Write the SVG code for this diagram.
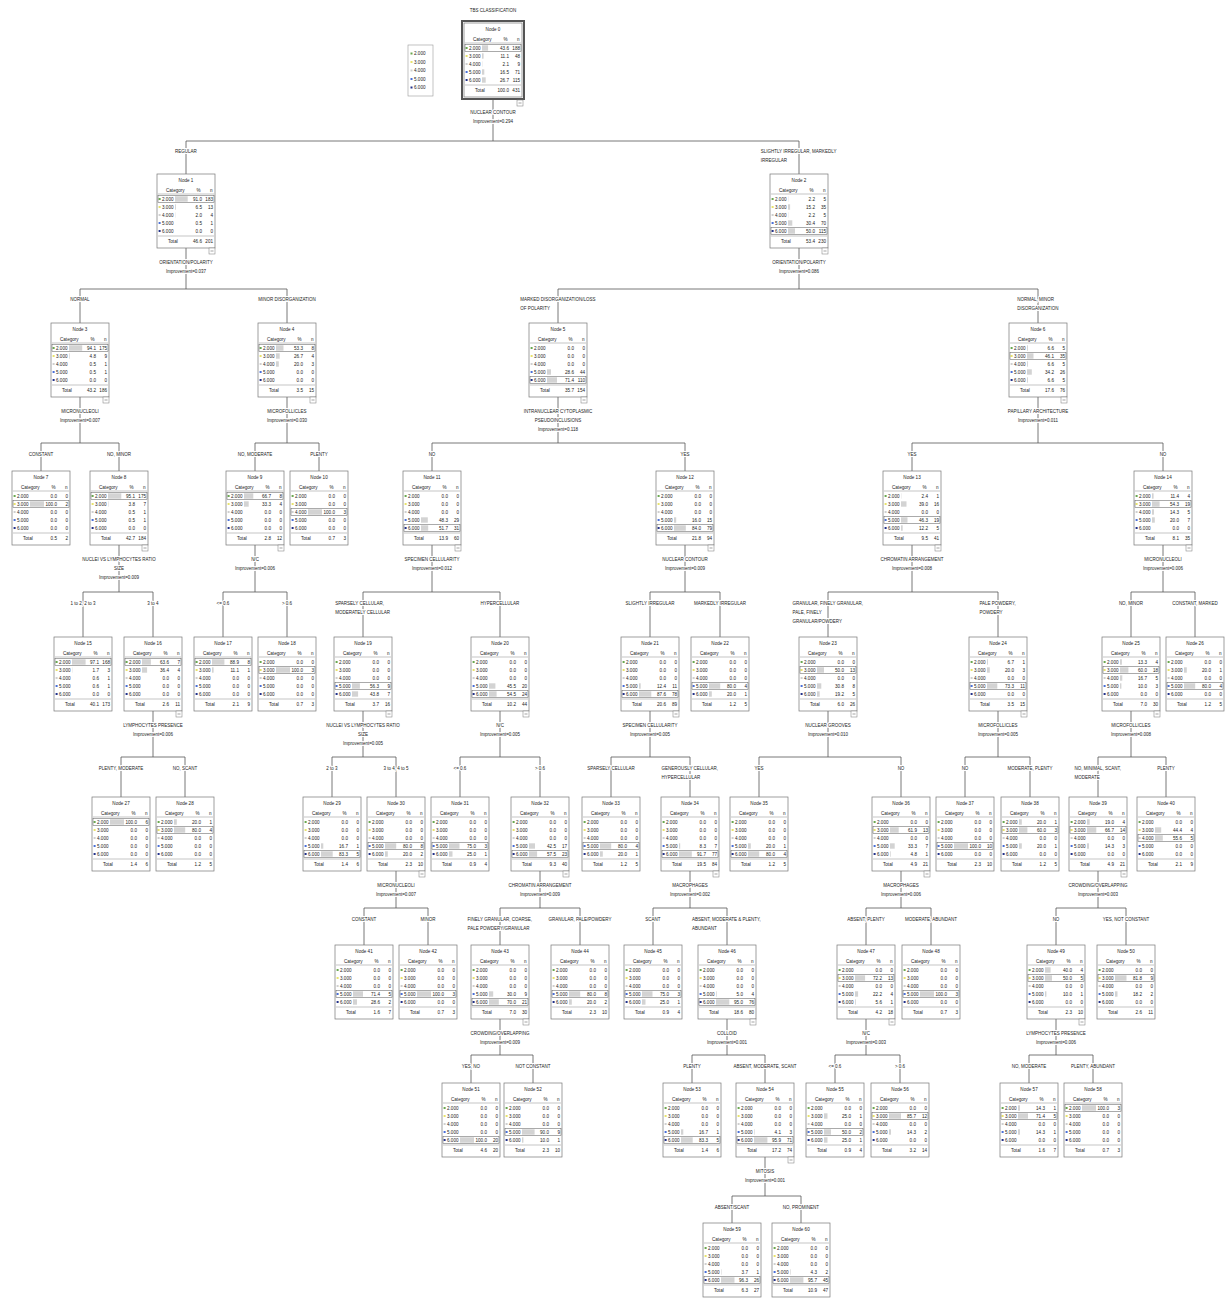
<svg xmlns="http://www.w3.org/2000/svg" xmlns:xlink="http://www.w3.org/1999/xlink" width="1225" height="1299" viewBox="0 0 1225 1299">
<style>
text{font-family:"Liberation Sans",Arial,sans-serif;fill:#222}
.t{font-size:4.6px}
.m{text-anchor:middle}
.e{text-anchor:end}
.l{font-size:4.5px;paint-order:stroke;stroke:#fff;stroke-width:2.2px;stroke-linejoin:round}
.b{fill:#d3d3d3}
.p{fill:none;stroke:#444;stroke-width:.45}
.f{fill:#fff;stroke:#777;stroke-width:.7}
.g{stroke:#888;stroke-width:.5;fill:none}
.c path{fill:none;stroke:#555;stroke-width:.8}
</style>
<defs>
<g id="nf">
<rect class="f" width="58" height="74"/>
<path class="g" d="M1 20H57M1 62H57"/>
<text class="t"><tspan x="9" y="17.5">Category</tspan><tspan x="39.5" y="17.5">%</tspan><tspan x="53" y="17.5">n</tspan></text>
<rect x="1.6" y="24" width="2" height="2" fill="#6aa84f"/>
<rect x="1.6" y="32" width="2" height="2" fill="#e8e36b"/>
<rect x="1.6" y="40" width="2" height="2" fill="#cfcfcf"/>
<rect x="1.6" y="48" width="2" height="2" fill="#4a6fd8"/>
<rect x="1.6" y="56" width="2" height="2" fill="#22318a"/>
<text class="t"><tspan x="5" y="26.6">2.000</tspan><tspan x="5" y="34.6">3.000</tspan><tspan x="5" y="42.6">4.000</tspan><tspan x="5" y="50.6">5.000</tspan><tspan x="5" y="58.6">6.000</tspan><tspan x="11" y="68.6">Total</tspan></text>
</g>
<g id="ex"><rect class="f" x="52" y="74" width="6" height="6" style="stroke-width:.5"/><path d="M53.5 77H56.5" stroke="#444" stroke-width=".5"/></g>
<rect id="p1" class="p" x="1" y="21.3" width="56" height="7.4"/>
<rect id="p2" class="p" x="1" y="29.3" width="56" height="7.4"/>
<rect id="p3" class="p" x="1" y="37.3" width="56" height="7.4"/>
<rect id="p4" class="p" x="1" y="45.3" width="56" height="7.4"/>
<rect id="p5" class="p" x="1" y="53.3" width="56" height="7.4"/>
</defs>
<rect width="1225" height="1299" fill="#fff"/>

<g id="legend">
<rect x="408" y="45" width="25" height="51" fill="#fff" stroke="#999" stroke-width=".6"/>
<rect x="410.5" y="52.5" width="2" height="2" fill="#6aa84f"/>
<rect x="410.5" y="61" width="2" height="2" fill="#e8e36b"/>
<rect x="410.5" y="69.5" width="2" height="2" fill="#cfcfcf"/>
<rect x="410.5" y="78" width="2" height="2" fill="#4a6fd8"/>
<rect x="410.5" y="86.5" width="2" height="2" fill="#22318a"/>
<text class="t"><tspan x="414" y="55.1">2.000</tspan><tspan x="414" y="63.6">3.000</tspan><tspan x="414" y="72.1">4.000</tspan><tspan x="414" y="80.6">5.000</tspan><tspan x="414" y="89.1">6.000</tspan></text>
</g>

<g id="connectors" class="c">
<path d="M493 99V141M186 174V141H799V174"/>
<path d="M186 248V289M80 323V289H287V323"/>
<path d="M799 248V289M558 323V289H1038V323"/>
<path d="M80 397V443M41 471V443H119V471"/>
<path d="M287 397V443M255 471V443H319V471"/>
<path d="M558 397V443M432 471V443H685V471"/>
<path d="M1038 397V443M912 471V443H1163V471"/>
<path d="M119 545V592M83 637V592H153V637"/>
<path d="M255 545V592M223 637V592H287V637"/>
<path d="M432 545V592M363 637V592H500V637"/>
<path d="M685 545V592M650 637V592H720V637"/>
<path d="M912 545V592M828 637V592H998V637"/>
<path d="M1163 545V592M1131 637V592H1195V637"/>
<path d="M153 711V757M121 797V757H185V797"/>
<path d="M363 711V757M332 797V757H396V797"/>
<path d="M500 711V757M460 797V757H540V797"/>
<path d="M650 711V757M611 797V757H690V797"/>
<path d="M828 711V757M759 797V757H901V797"/>
<path d="M998 711V757M965 797V757H1030V797"/>
<path d="M1131 711V757M1098 797V757H1166V797"/>
<path d="M396 871V908M364 945V908H428V945"/>
<path d="M540 871V908M500 945V908H580V945"/>
<path d="M690 871V908M653 945V908H727V945"/>
<path d="M901 871V908M866 945V908H931V945"/>
<path d="M1098 871V908M1056 945V908H1126V945"/>
<path d="M500 1019V1055M471 1083V1055H533V1083"/>
<path d="M727 1019V1055M692 1083V1055H765V1083"/>
<path d="M866 1019V1055M835 1083V1055H900V1083"/>
<path d="M1056 1019V1055M1029 1083V1055H1093V1083"/>
<path d="M765 1157V1196M732 1223V1196H801V1223"/>
</g>

<g id="labels">
<text class="l m" x="493" y="12">TBS CLASSIFICATION</text>
<text class="l m" x="493"><tspan x="493" y="113.5">NUCLEAR CONTOUR</tspan><tspan x="493" y="122.5">Improvement=0.294</tspan></text>
<text class="l m" x="186" y="152.5">REGULAR</text>
<text class="l"><tspan x="760.7" y="152.5">SLIGHTLY IRREGULAR, MARKEDLY</tspan><tspan x="760.7" y="161.5">IRREGULAR</tspan></text>
<text class="l m"><tspan x="186" y="263.5">ORIENTATION/POLARITY</tspan><tspan x="186" y="272.5">Improvement=0.037</tspan></text>
<text class="l m"><tspan x="799" y="263.5">ORIENTATION/POLARITY</tspan><tspan x="799" y="272.5">Improvement=0.086</tspan></text>
<text class="l m" x="80" y="300.5">NORMAL</text>
<text class="l m" x="287" y="300.5">MINOR DISORGANIZATION</text>
<text class="l"><tspan x="520.3" y="300.5">MARKED DISORGANIZATION/LOSS</tspan><tspan x="520.3" y="309.5">OF POLARITY</tspan></text>
<text class="l"><tspan x="1017.2" y="300.5">NORMAL, MINOR</tspan><tspan x="1017.2" y="309.5">DISORGANIZATION</tspan></text>
<text class="l m"><tspan x="80" y="412.5">MICRONUCLEOLI</tspan><tspan x="80" y="421.5">Improvement=0.007</tspan></text>
<text class="l m"><tspan x="287" y="412.5">MICROFOLLICLES</tspan><tspan x="287" y="421.5">Improvement=0.030</tspan></text>
<text class="l m"><tspan x="558" y="412.5">INTRANUCLEAR CYTOPLASMIC</tspan><tspan x="558" y="421.5">PSEUDOINCLUSIONS</tspan><tspan x="558" y="430.5">Improvement=0.118</tspan></text>
<text class="l m"><tspan x="1038" y="412.5">PAPILLARY ARCHITECTURE</tspan><tspan x="1038" y="421.5">Improvement=0.011</tspan></text>
<text class="l m" x="41" y="455.5">CONSTANT</text>
<text class="l m" x="119" y="455.5">NO, MINOR</text>
<text class="l m" x="255" y="455.5">NO, MODERATE</text>
<text class="l m" x="319" y="455.5">PLENTY</text>
<text class="l m" x="432" y="455.5">NO</text>
<text class="l m" x="685" y="455.5">YES</text>
<text class="l m" x="912" y="455.5">YES</text>
<text class="l m" x="1163" y="455.5">NO</text>
<text class="l m"><tspan x="119" y="560.5">NUCLEI VS LYMPHOCYTES RATIO</tspan><tspan x="119" y="569.5">SIZE</tspan><tspan x="119" y="578.5">Improvement=0.009</tspan></text>
<text class="l m"><tspan x="255" y="560.5">N/C</tspan><tspan x="255" y="569.5">Improvement=0.006</tspan></text>
<text class="l m"><tspan x="432" y="560.5">SPECIMEN CELLULARITY</tspan><tspan x="432" y="569.5">Improvement=0.012</tspan></text>
<text class="l m"><tspan x="685" y="560.5">NUCLEAR CONTOUR</tspan><tspan x="685" y="569.5">Improvement=0.009</tspan></text>
<text class="l m"><tspan x="912" y="560.5">CHROMATIN ARRANGEMENT</tspan><tspan x="912" y="569.5">Improvement=0.008</tspan></text>
<text class="l m"><tspan x="1163" y="560.5">MICRONUCLEOLI</tspan><tspan x="1163" y="569.5">Improvement=0.006</tspan></text>
<text class="l m" x="83" y="604.5">1 to 2, 2 to 3</text>
<text class="l m" x="153" y="604.5">3 to 4</text>
<text class="l m" x="223" y="604.5">&lt;= 0.6</text>
<text class="l m" x="287" y="604.5">&gt; 0.6</text>
<text class="l"><tspan x="335.2" y="604.5">SPARSELY CELLULAR,</tspan><tspan x="335.2" y="613.5">MODERATELY CELLULAR</tspan></text>
<text class="l m" x="500" y="604.5">HYPERCELLULAR</text>
<text class="l m" x="650" y="604.5">SLIGHTLY IRREGULAR</text>
<text class="l m" x="720" y="604.5">MARKEDLY IRREGULAR</text>
<text class="l"><tspan x="792.6" y="604.5">GRANULAR, FINELY GRANULAR,</tspan><tspan x="792.6" y="613.5">PALE, FINELY</tspan><tspan x="792.6" y="622.5">GRANULAR/POWDERY</tspan></text>
<text class="l"><tspan x="979.4" y="604.5">PALE POWDERY,</tspan><tspan x="979.4" y="613.5">POWDERY</tspan></text>
<text class="l m" x="1131" y="604.5">NO, MINOR</text>
<text class="l m" x="1195" y="604.5">CONSTANT, MARKED</text>
<text class="l m"><tspan x="153" y="726.5">LYMPHOCYTES PRESENCE</tspan><tspan x="153" y="735.5">Improvement=0.006</tspan></text>
<text class="l m"><tspan x="363" y="726.5">NUCLEI VS LYMPHOCYTES RATIO</tspan><tspan x="363" y="735.5">SIZE</tspan><tspan x="363" y="744.5">Improvement=0.005</tspan></text>
<text class="l m"><tspan x="500" y="726.5">N/C</tspan><tspan x="500" y="735.5">Improvement=0.005</tspan></text>
<text class="l m"><tspan x="650" y="726.5">SPECIMEN CELLULARITY</tspan><tspan x="650" y="735.5">Improvement=0.005</tspan></text>
<text class="l m"><tspan x="828" y="726.5">NUCLEAR GROOVES</tspan><tspan x="828" y="735.5">Improvement=0.010</tspan></text>
<text class="l m"><tspan x="998" y="726.5">MICROFOLLICLES</tspan><tspan x="998" y="735.5">Improvement=0.005</tspan></text>
<text class="l m"><tspan x="1131" y="726.5">MICROFOLLICLES</tspan><tspan x="1131" y="735.5">Improvement=0.008</tspan></text>
<text class="l m" x="121" y="769.5">PLENTY, MODERATE</text>
<text class="l m" x="185" y="769.5">NO, SCANT</text>
<text class="l m" x="332" y="769.5">2 to 3</text>
<text class="l m" x="396" y="769.5">3 to 4, 4 to 5</text>
<text class="l m" x="460" y="769.5">&lt;= 0.6</text>
<text class="l m" x="540" y="769.5">&gt; 0.6</text>
<text class="l m" x="611" y="769.5">SPARSELY CELLULAR</text>
<text class="l"><tspan x="661.5" y="769.5">GENEROUSLY CELLULAR,</tspan><tspan x="661.5" y="778.5">HYPERCELLULAR</tspan></text>
<text class="l m" x="759" y="769.5">YES</text>
<text class="l m" x="901" y="769.5">NO</text>
<text class="l m" x="965" y="769.5">NO</text>
<text class="l m" x="1030" y="769.5">MODERATE, PLENTY</text>
<text class="l"><tspan x="1074.5" y="769.5">NO, MINIMAL, SCANT,</tspan><tspan x="1074.5" y="778.5">MODERATE</tspan></text>
<text class="l m" x="1166" y="769.5">PLENTY</text>
<text class="l m"><tspan x="396" y="886.5">MICRONUCLEOLI</tspan><tspan x="396" y="895.5">Improvement=0.007</tspan></text>
<text class="l m"><tspan x="540" y="886.5">CHROMATIN ARRANGEMENT</tspan><tspan x="540" y="895.5">Improvement=0.009</tspan></text>
<text class="l m"><tspan x="690" y="886.5">MACROPHAGES</tspan><tspan x="690" y="895.5">Improvement=0.002</tspan></text>
<text class="l m"><tspan x="901" y="886.5">MACROPHAGES</tspan><tspan x="901" y="895.5">Improvement=0.006</tspan></text>
<text class="l m"><tspan x="1098" y="886.5">CROWDING/OVERLAPPING</tspan><tspan x="1098" y="895.5">Improvement=0.003</tspan></text>
<text class="l m" x="364" y="920.5">CONSTANT</text>
<text class="l m" x="428" y="920.5">MINOR</text>
<text class="l"><tspan x="467.6" y="920.5">FINELY GRANULAR, COARSE,</tspan><tspan x="467.6" y="929.5">PALE POWDERY/GRANULAR</tspan></text>
<text class="l m" x="580" y="920.5">GRANULAR, PALE/POWDERY</text>
<text class="l m" x="653" y="920.5">SCANT</text>
<text class="l"><tspan x="691.9" y="920.5">ABSENT, MODERATE &amp; PLENTY,</tspan><tspan x="691.9" y="929.5">ABUNDANT</tspan></text>
<text class="l m" x="866" y="920.5">ABSENT, PLENTY</text>
<text class="l m" x="931" y="920.5">MODERATE, ABUNDANT</text>
<text class="l m" x="1056" y="920.5">NO</text>
<text class="l m" x="1126" y="920.5">YES, NOT CONSTANT</text>
<text class="l m"><tspan x="500" y="1034.5">CROWDING/OVERLAPPING</tspan><tspan x="500" y="1043.5">Improvement=0.009</tspan></text>
<text class="l m"><tspan x="727" y="1034.5">COLLOID</tspan><tspan x="727" y="1043.5">Improvement=0.001</tspan></text>
<text class="l m"><tspan x="866" y="1034.5">N/C</tspan><tspan x="866" y="1043.5">Improvement=0.003</tspan></text>
<text class="l m"><tspan x="1056" y="1034.5">LYMPHOCYTES PRESENCE</tspan><tspan x="1056" y="1043.5">Improvement=0.006</tspan></text>
<text class="l m" x="471" y="1067.5">YES, NO</text>
<text class="l m" x="533" y="1067.5">NOT CONSTANT</text>
<text class="l m" x="692" y="1067.5">PLENTY</text>
<text class="l m" x="765" y="1067.5">ABSENT, MODERATE, SCANT</text>
<text class="l m" x="835" y="1067.5">&lt;= 0.6</text>
<text class="l m" x="900" y="1067.5">&gt; 0.6</text>
<text class="l m" x="1029" y="1067.5">NO, MODERATE</text>
<text class="l m" x="1093" y="1067.5">PLENTY, ABUNDANT</text>
<text class="l m"><tspan x="765" y="1172.5">MITOSIS</tspan><tspan x="765" y="1181.5">Improvement=0.001</tspan></text>
<text class="l m" x="732" y="1208.5">ABSENT/SCANT</text>
<text class="l m" x="801" y="1208.5">NO, PROMINENT</text>
</g>

<g id="n0"><rect x="462" y="21" width="62" height="78" fill="#fff" stroke="#555" stroke-width="2"/><g transform="translate(464,23)"><use href="#nf"/><rect class="b" x="18" y="22.3" width="6.1" height="5.4"/><rect class="b" x="18" y="30.3" width="1.6" height="5.4"/><rect class="b" x="18" y="38.3" width="0.3" height="5.4"/><rect class="b" x="18" y="46.3" width="2.3" height="5.4"/><rect class="b" x="18" y="54.3" width="3.7" height="5.4"/><use href="#p1"/><text class="t m" x="29" y="7.5">Node 0</text><text class="t e"><tspan x="45" y="26.6">43.6</tspan><tspan x="45" y="34.6">11.1</tspan><tspan x="45" y="42.6">2.1</tspan><tspan x="45" y="50.6">16.5</tspan><tspan x="45" y="58.6">26.7</tspan><tspan x="45" y="68.6">100.0</tspan><tspan x="56" y="26.6">188</tspan><tspan x="56" y="34.6">48</tspan><tspan x="56" y="42.6">9</tspan><tspan x="56" y="50.6">71</tspan><tspan x="56" y="58.6">115</tspan><tspan x="56" y="68.6">431</tspan></text><use href="#ex" x="1" y="3"/></g></g>

<g id="n1" transform="translate(157,174)"><use href="#nf"/><rect class="b" x="18" y="22.3" width="12.7" height="5.4"/><rect class="b" x="18" y="30.3" width="0.9" height="5.4"/><rect class="b" x="18" y="38.3" width="0.3" height="5.4"/><use href="#p1"/><text class="t m" x="29" y="7.5">Node 1</text><text class="t e"><tspan x="45" y="26.6">91.0</tspan><tspan x="45" y="34.6">6.5</tspan><tspan x="45" y="42.6">2.0</tspan><tspan x="45" y="50.6">0.5</tspan><tspan x="45" y="58.6">0.0</tspan><tspan x="45" y="68.6">46.6</tspan><tspan x="56" y="26.6">183</tspan><tspan x="56" y="34.6">13</tspan><tspan x="56" y="42.6">4</tspan><tspan x="56" y="50.6">1</tspan><tspan x="56" y="58.6">0</tspan><tspan x="56" y="68.6">201</tspan></text><use href="#ex"/></g>

<g id="n2" transform="translate(770,174)"><use href="#nf"/><rect class="b" x="18" y="22.3" width="0.3" height="5.4"/><rect class="b" x="18" y="30.3" width="2.1" height="5.4"/><rect class="b" x="18" y="38.3" width="0.3" height="5.4"/><rect class="b" x="18" y="46.3" width="4.3" height="5.4"/><rect class="b" x="18" y="54.3" width="7" height="5.4"/><use href="#p5"/><text class="t m" x="29" y="7.5">Node 2</text><text class="t e"><tspan x="45" y="26.6">2.2</tspan><tspan x="45" y="34.6">15.2</tspan><tspan x="45" y="42.6">2.2</tspan><tspan x="45" y="50.6">30.4</tspan><tspan x="45" y="58.6">50.0</tspan><tspan x="45" y="68.6">53.4</tspan><tspan x="56" y="26.6">5</tspan><tspan x="56" y="34.6">35</tspan><tspan x="56" y="42.6">5</tspan><tspan x="56" y="50.6">70</tspan><tspan x="56" y="58.6">115</tspan><tspan x="56" y="68.6">230</tspan></text><use href="#ex"/></g>

<g id="n3" transform="translate(51,323)"><use href="#nf"/><rect class="b" x="18" y="22.3" width="13.2" height="5.4"/><rect class="b" x="18" y="30.3" width="0.7" height="5.4"/><use href="#p1"/><text class="t m" x="29" y="7.5">Node 3</text><text class="t e"><tspan x="45" y="26.6">94.1</tspan><tspan x="45" y="34.6">4.8</tspan><tspan x="45" y="42.6">0.5</tspan><tspan x="45" y="50.6">0.5</tspan><tspan x="45" y="58.6">0.0</tspan><tspan x="45" y="68.6">43.2</tspan><tspan x="56" y="26.6">175</tspan><tspan x="56" y="34.6">9</tspan><tspan x="56" y="42.6">1</tspan><tspan x="56" y="50.6">1</tspan><tspan x="56" y="58.6">0</tspan><tspan x="56" y="68.6">186</tspan></text><use href="#ex"/></g>

<g id="n4" transform="translate(258,323)"><use href="#nf"/><rect class="b" x="18" y="22.3" width="7.5" height="5.4"/><rect class="b" x="18" y="30.3" width="3.7" height="5.4"/><rect class="b" x="18" y="38.3" width="2.8" height="5.4"/><use href="#p1"/><text class="t m" x="29" y="7.5">Node 4</text><text class="t e"><tspan x="45" y="26.6">53.3</tspan><tspan x="45" y="34.6">26.7</tspan><tspan x="45" y="42.6">20.0</tspan><tspan x="45" y="50.6">0.0</tspan><tspan x="45" y="58.6">0.0</tspan><tspan x="45" y="68.6">3.5</tspan><tspan x="56" y="26.6">8</tspan><tspan x="56" y="34.6">4</tspan><tspan x="56" y="42.6">3</tspan><tspan x="56" y="50.6">0</tspan><tspan x="56" y="58.6">0</tspan><tspan x="56" y="68.6">15</tspan></text><use href="#ex"/></g>

<g id="n5" transform="translate(529,323)"><use href="#nf"/><rect class="b" x="18" y="46.3" width="4" height="5.4"/><rect class="b" x="18" y="54.3" width="10" height="5.4"/><use href="#p5"/><text class="t m" x="29" y="7.5">Node 5</text><text class="t e"><tspan x="45" y="26.6">0.0</tspan><tspan x="45" y="34.6">0.0</tspan><tspan x="45" y="42.6">0.0</tspan><tspan x="45" y="50.6">28.6</tspan><tspan x="45" y="58.6">71.4</tspan><tspan x="45" y="68.6">35.7</tspan><tspan x="56" y="26.6">0</tspan><tspan x="56" y="34.6">0</tspan><tspan x="56" y="42.6">0</tspan><tspan x="56" y="50.6">44</tspan><tspan x="56" y="58.6">110</tspan><tspan x="56" y="68.6">154</tspan></text><use href="#ex"/></g>

<g id="n6" transform="translate(1009,323)"><use href="#nf"/><rect class="b" x="18" y="22.3" width="0.9" height="5.4"/><rect class="b" x="18" y="30.3" width="6.5" height="5.4"/><rect class="b" x="18" y="38.3" width="0.9" height="5.4"/><rect class="b" x="18" y="46.3" width="4.8" height="5.4"/><rect class="b" x="18" y="54.3" width="0.9" height="5.4"/><use href="#p2"/><text class="t m" x="29" y="7.5">Node 6</text><text class="t e"><tspan x="45" y="26.6">6.6</tspan><tspan x="45" y="34.6">46.1</tspan><tspan x="45" y="42.6">6.6</tspan><tspan x="45" y="50.6">34.2</tspan><tspan x="45" y="58.6">6.6</tspan><tspan x="45" y="68.6">17.6</tspan><tspan x="56" y="26.6">5</tspan><tspan x="56" y="34.6">35</tspan><tspan x="56" y="42.6">5</tspan><tspan x="56" y="50.6">26</tspan><tspan x="56" y="58.6">5</tspan><tspan x="56" y="68.6">76</tspan></text><use href="#ex"/></g>

<g id="n7" transform="translate(12,471)"><use href="#nf"/><rect class="b" x="18" y="30.3" width="14" height="5.4"/><use href="#p2"/><text class="t m" x="29" y="7.5">Node 7</text><text class="t e"><tspan x="45" y="26.6">0.0</tspan><tspan x="45" y="34.6">100.0</tspan><tspan x="45" y="42.6">0.0</tspan><tspan x="45" y="50.6">0.0</tspan><tspan x="45" y="58.6">0.0</tspan><tspan x="45" y="68.6">0.5</tspan><tspan x="56" y="26.6">0</tspan><tspan x="56" y="34.6">2</tspan><tspan x="56" y="42.6">0</tspan><tspan x="56" y="50.6">0</tspan><tspan x="56" y="58.6">0</tspan><tspan x="56" y="68.6">2</tspan></text></g>

<g id="n8" transform="translate(90,471)"><use href="#nf"/><rect class="b" x="18" y="22.3" width="13.3" height="5.4"/><rect class="b" x="18" y="30.3" width="0.5" height="5.4"/><use href="#p1"/><text class="t m" x="29" y="7.5">Node 8</text><text class="t e"><tspan x="45" y="26.6">95.1</tspan><tspan x="45" y="34.6">3.8</tspan><tspan x="45" y="42.6">0.5</tspan><tspan x="45" y="50.6">0.5</tspan><tspan x="45" y="58.6">0.0</tspan><tspan x="45" y="68.6">42.7</tspan><tspan x="56" y="26.6">175</tspan><tspan x="56" y="34.6">7</tspan><tspan x="56" y="42.6">1</tspan><tspan x="56" y="50.6">1</tspan><tspan x="56" y="58.6">0</tspan><tspan x="56" y="68.6">184</tspan></text><use href="#ex"/></g>

<g id="n9" transform="translate(226,471)"><use href="#nf"/><rect class="b" x="18" y="22.3" width="9.3" height="5.4"/><rect class="b" x="18" y="30.3" width="4.7" height="5.4"/><use href="#p1"/><text class="t m" x="29" y="7.5">Node 9</text><text class="t e"><tspan x="45" y="26.6">66.7</tspan><tspan x="45" y="34.6">33.3</tspan><tspan x="45" y="42.6">0.0</tspan><tspan x="45" y="50.6">0.0</tspan><tspan x="45" y="58.6">0.0</tspan><tspan x="45" y="68.6">2.8</tspan><tspan x="56" y="26.6">8</tspan><tspan x="56" y="34.6">4</tspan><tspan x="56" y="42.6">0</tspan><tspan x="56" y="50.6">0</tspan><tspan x="56" y="58.6">0</tspan><tspan x="56" y="68.6">12</tspan></text><use href="#ex"/></g>

<g id="n10" transform="translate(290,471)"><use href="#nf"/><rect class="b" x="18" y="38.3" width="14" height="5.4"/><use href="#p3"/><text class="t m" x="29" y="7.5">Node 10</text><text class="t e"><tspan x="45" y="26.6">0.0</tspan><tspan x="45" y="34.6">0.0</tspan><tspan x="45" y="42.6">100.0</tspan><tspan x="45" y="50.6">0.0</tspan><tspan x="45" y="58.6">0.0</tspan><tspan x="45" y="68.6">0.7</tspan><tspan x="56" y="26.6">0</tspan><tspan x="56" y="34.6">0</tspan><tspan x="56" y="42.6">3</tspan><tspan x="56" y="50.6">0</tspan><tspan x="56" y="58.6">0</tspan><tspan x="56" y="68.6">3</tspan></text></g>

<g id="n11" transform="translate(403,471)"><use href="#nf"/><rect class="b" x="18" y="46.3" width="6.8" height="5.4"/><rect class="b" x="18" y="54.3" width="7.2" height="5.4"/><use href="#p5"/><text class="t m" x="29" y="7.5">Node 11</text><text class="t e"><tspan x="45" y="26.6">0.0</tspan><tspan x="45" y="34.6">0.0</tspan><tspan x="45" y="42.6">0.0</tspan><tspan x="45" y="50.6">48.3</tspan><tspan x="45" y="58.6">51.7</tspan><tspan x="45" y="68.6">13.9</tspan><tspan x="56" y="26.6">0</tspan><tspan x="56" y="34.6">0</tspan><tspan x="56" y="42.6">0</tspan><tspan x="56" y="50.6">29</tspan><tspan x="56" y="58.6">31</tspan><tspan x="56" y="68.6">60</tspan></text><use href="#ex"/></g>

<g id="n12" transform="translate(656,471)"><use href="#nf"/><rect class="b" x="18" y="46.3" width="2.2" height="5.4"/><rect class="b" x="18" y="54.3" width="11.8" height="5.4"/><use href="#p5"/><text class="t m" x="29" y="7.5">Node 12</text><text class="t e"><tspan x="45" y="26.6">0.0</tspan><tspan x="45" y="34.6">0.0</tspan><tspan x="45" y="42.6">0.0</tspan><tspan x="45" y="50.6">16.0</tspan><tspan x="45" y="58.6">84.0</tspan><tspan x="45" y="68.6">21.8</tspan><tspan x="56" y="26.6">0</tspan><tspan x="56" y="34.6">0</tspan><tspan x="56" y="42.6">0</tspan><tspan x="56" y="50.6">15</tspan><tspan x="56" y="58.6">79</tspan><tspan x="56" y="68.6">94</tspan></text><use href="#ex"/></g>

<g id="n13" transform="translate(883,471)"><use href="#nf"/><rect class="b" x="18" y="22.3" width="0.3" height="5.4"/><rect class="b" x="18" y="30.3" width="5.5" height="5.4"/><rect class="b" x="18" y="46.3" width="6.5" height="5.4"/><rect class="b" x="18" y="54.3" width="1.7" height="5.4"/><use href="#p4"/><text class="t m" x="29" y="7.5">Node 13</text><text class="t e"><tspan x="45" y="26.6">2.4</tspan><tspan x="45" y="34.6">39.0</tspan><tspan x="45" y="42.6">0.0</tspan><tspan x="45" y="50.6">46.3</tspan><tspan x="45" y="58.6">12.2</tspan><tspan x="45" y="68.6">9.5</tspan><tspan x="56" y="26.6">1</tspan><tspan x="56" y="34.6">16</tspan><tspan x="56" y="42.6">0</tspan><tspan x="56" y="50.6">19</tspan><tspan x="56" y="58.6">5</tspan><tspan x="56" y="68.6">41</tspan></text><use href="#ex"/></g>

<g id="n14" transform="translate(1134,471)"><use href="#nf"/><rect class="b" x="18" y="22.3" width="1.6" height="5.4"/><rect class="b" x="18" y="30.3" width="7.6" height="5.4"/><rect class="b" x="18" y="38.3" width="2" height="5.4"/><rect class="b" x="18" y="46.3" width="2.8" height="5.4"/><use href="#p2"/><text class="t m" x="29" y="7.5">Node 14</text><text class="t e"><tspan x="45" y="26.6">11.4</tspan><tspan x="45" y="34.6">54.3</tspan><tspan x="45" y="42.6">14.3</tspan><tspan x="45" y="50.6">20.0</tspan><tspan x="45" y="58.6">0.0</tspan><tspan x="45" y="68.6">8.1</tspan><tspan x="56" y="26.6">4</tspan><tspan x="56" y="34.6">19</tspan><tspan x="56" y="42.6">5</tspan><tspan x="56" y="50.6">7</tspan><tspan x="56" y="58.6">0</tspan><tspan x="56" y="68.6">35</tspan></text><use href="#ex"/></g>

<g id="n15" transform="translate(54,637)"><use href="#nf"/><rect class="b" x="18" y="22.3" width="13.6" height="5.4"/><rect class="b" x="18" y="30.3" width="0.3" height="5.4"/><use href="#p1"/><text class="t m" x="29" y="7.5">Node 15</text><text class="t e"><tspan x="45" y="26.6">97.1</tspan><tspan x="45" y="34.6">1.7</tspan><tspan x="45" y="42.6">0.6</tspan><tspan x="45" y="50.6">0.6</tspan><tspan x="45" y="58.6">0.0</tspan><tspan x="45" y="68.6">40.1</tspan><tspan x="56" y="26.6">168</tspan><tspan x="56" y="34.6">3</tspan><tspan x="56" y="42.6">1</tspan><tspan x="56" y="50.6">1</tspan><tspan x="56" y="58.6">0</tspan><tspan x="56" y="68.6">173</tspan></text></g>

<g id="n16" transform="translate(124,637)"><use href="#nf"/><rect class="b" x="18" y="22.3" width="8.9" height="5.4"/><rect class="b" x="18" y="30.3" width="5.1" height="5.4"/><use href="#p1"/><text class="t m" x="29" y="7.5">Node 16</text><text class="t e"><tspan x="45" y="26.6">63.6</tspan><tspan x="45" y="34.6">36.4</tspan><tspan x="45" y="42.6">0.0</tspan><tspan x="45" y="50.6">0.0</tspan><tspan x="45" y="58.6">0.0</tspan><tspan x="45" y="68.6">2.6</tspan><tspan x="56" y="26.6">7</tspan><tspan x="56" y="34.6">4</tspan><tspan x="56" y="42.6">0</tspan><tspan x="56" y="50.6">0</tspan><tspan x="56" y="58.6">0</tspan><tspan x="56" y="68.6">11</tspan></text><use href="#ex"/></g>

<g id="n17" transform="translate(194,637)"><use href="#nf"/><rect class="b" x="18" y="22.3" width="12.4" height="5.4"/><rect class="b" x="18" y="30.3" width="1.6" height="5.4"/><use href="#p1"/><text class="t m" x="29" y="7.5">Node 17</text><text class="t e"><tspan x="45" y="26.6">88.9</tspan><tspan x="45" y="34.6">11.1</tspan><tspan x="45" y="42.6">0.0</tspan><tspan x="45" y="50.6">0.0</tspan><tspan x="45" y="58.6">0.0</tspan><tspan x="45" y="68.6">2.1</tspan><tspan x="56" y="26.6">8</tspan><tspan x="56" y="34.6">1</tspan><tspan x="56" y="42.6">0</tspan><tspan x="56" y="50.6">0</tspan><tspan x="56" y="58.6">0</tspan><tspan x="56" y="68.6">9</tspan></text></g>

<g id="n18" transform="translate(258,637)"><use href="#nf"/><rect class="b" x="18" y="30.3" width="14" height="5.4"/><use href="#p2"/><text class="t m" x="29" y="7.5">Node 18</text><text class="t e"><tspan x="45" y="26.6">0.0</tspan><tspan x="45" y="34.6">100.0</tspan><tspan x="45" y="42.6">0.0</tspan><tspan x="45" y="50.6">0.0</tspan><tspan x="45" y="58.6">0.0</tspan><tspan x="45" y="68.6">0.7</tspan><tspan x="56" y="26.6">0</tspan><tspan x="56" y="34.6">3</tspan><tspan x="56" y="42.6">0</tspan><tspan x="56" y="50.6">0</tspan><tspan x="56" y="58.6">0</tspan><tspan x="56" y="68.6">3</tspan></text></g>

<g id="n19" transform="translate(334,637)"><use href="#nf"/><rect class="b" x="18" y="46.3" width="7.9" height="5.4"/><rect class="b" x="18" y="54.3" width="6.1" height="5.4"/><use href="#p4"/><text class="t m" x="29" y="7.5">Node 19</text><text class="t e"><tspan x="45" y="26.6">0.0</tspan><tspan x="45" y="34.6">0.0</tspan><tspan x="45" y="42.6">0.0</tspan><tspan x="45" y="50.6">56.3</tspan><tspan x="45" y="58.6">43.8</tspan><tspan x="45" y="68.6">3.7</tspan><tspan x="56" y="26.6">0</tspan><tspan x="56" y="34.6">0</tspan><tspan x="56" y="42.6">0</tspan><tspan x="56" y="50.6">9</tspan><tspan x="56" y="58.6">7</tspan><tspan x="56" y="68.6">16</tspan></text><use href="#ex"/></g>

<g id="n20" transform="translate(471,637)"><use href="#nf"/><rect class="b" x="18" y="46.3" width="6.4" height="5.4"/><rect class="b" x="18" y="54.3" width="7.6" height="5.4"/><use href="#p5"/><text class="t m" x="29" y="7.5">Node 20</text><text class="t e"><tspan x="45" y="26.6">0.0</tspan><tspan x="45" y="34.6">0.0</tspan><tspan x="45" y="42.6">0.0</tspan><tspan x="45" y="50.6">45.5</tspan><tspan x="45" y="58.6">54.5</tspan><tspan x="45" y="68.6">10.2</tspan><tspan x="56" y="26.6">0</tspan><tspan x="56" y="34.6">0</tspan><tspan x="56" y="42.6">0</tspan><tspan x="56" y="50.6">20</tspan><tspan x="56" y="58.6">24</tspan><tspan x="56" y="68.6">44</tspan></text><use href="#ex"/></g>

<g id="n21" transform="translate(621,637)"><use href="#nf"/><rect class="b" x="18" y="46.3" width="1.7" height="5.4"/><rect class="b" x="18" y="54.3" width="12.3" height="5.4"/><use href="#p5"/><text class="t m" x="29" y="7.5">Node 21</text><text class="t e"><tspan x="45" y="26.6">0.0</tspan><tspan x="45" y="34.6">0.0</tspan><tspan x="45" y="42.6">0.0</tspan><tspan x="45" y="50.6">12.4</tspan><tspan x="45" y="58.6">87.6</tspan><tspan x="45" y="68.6">20.6</tspan><tspan x="56" y="26.6">0</tspan><tspan x="56" y="34.6">0</tspan><tspan x="56" y="42.6">0</tspan><tspan x="56" y="50.6">11</tspan><tspan x="56" y="58.6">78</tspan><tspan x="56" y="68.6">89</tspan></text><use href="#ex"/></g>

<g id="n22" transform="translate(691,637)"><use href="#nf"/><rect class="b" x="18" y="46.3" width="11.2" height="5.4"/><rect class="b" x="18" y="54.3" width="2.8" height="5.4"/><use href="#p4"/><text class="t m" x="29" y="7.5">Node 22</text><text class="t e"><tspan x="45" y="26.6">0.0</tspan><tspan x="45" y="34.6">0.0</tspan><tspan x="45" y="42.6">0.0</tspan><tspan x="45" y="50.6">80.0</tspan><tspan x="45" y="58.6">20.0</tspan><tspan x="45" y="68.6">1.2</tspan><tspan x="56" y="26.6">0</tspan><tspan x="56" y="34.6">0</tspan><tspan x="56" y="42.6">0</tspan><tspan x="56" y="50.6">4</tspan><tspan x="56" y="58.6">1</tspan><tspan x="56" y="68.6">5</tspan></text></g>

<g id="n23" transform="translate(799,637)"><use href="#nf"/><rect class="b" x="18" y="30.3" width="7" height="5.4"/><rect class="b" x="18" y="46.3" width="4.3" height="5.4"/><rect class="b" x="18" y="54.3" width="2.7" height="5.4"/><use href="#p2"/><text class="t m" x="29" y="7.5">Node 23</text><text class="t e"><tspan x="45" y="26.6">0.0</tspan><tspan x="45" y="34.6">50.0</tspan><tspan x="45" y="42.6">0.0</tspan><tspan x="45" y="50.6">30.8</tspan><tspan x="45" y="58.6">19.2</tspan><tspan x="45" y="68.6">6.0</tspan><tspan x="56" y="26.6">0</tspan><tspan x="56" y="34.6">13</tspan><tspan x="56" y="42.6">0</tspan><tspan x="56" y="50.6">8</tspan><tspan x="56" y="58.6">5</tspan><tspan x="56" y="68.6">26</tspan></text><use href="#ex"/></g>

<g id="n24" transform="translate(969,637)"><use href="#nf"/><rect class="b" x="18" y="22.3" width="0.9" height="5.4"/><rect class="b" x="18" y="30.3" width="2.8" height="5.4"/><rect class="b" x="18" y="46.3" width="10.3" height="5.4"/><use href="#p4"/><text class="t m" x="29" y="7.5">Node 24</text><text class="t e"><tspan x="45" y="26.6">6.7</tspan><tspan x="45" y="34.6">20.0</tspan><tspan x="45" y="42.6">0.0</tspan><tspan x="45" y="50.6">73.3</tspan><tspan x="45" y="58.6">0.0</tspan><tspan x="45" y="68.6">3.5</tspan><tspan x="56" y="26.6">1</tspan><tspan x="56" y="34.6">3</tspan><tspan x="56" y="42.6">0</tspan><tspan x="56" y="50.6">11</tspan><tspan x="56" y="58.6">0</tspan><tspan x="56" y="68.6">15</tspan></text><use href="#ex"/></g>

<g id="n25" transform="translate(1102,637)"><use href="#nf"/><rect class="b" x="18" y="22.3" width="1.9" height="5.4"/><rect class="b" x="18" y="30.3" width="8.4" height="5.4"/><rect class="b" x="18" y="38.3" width="2.3" height="5.4"/><rect class="b" x="18" y="46.3" width="1.4" height="5.4"/><use href="#p2"/><text class="t m" x="29" y="7.5">Node 25</text><text class="t e"><tspan x="45" y="26.6">13.3</tspan><tspan x="45" y="34.6">60.0</tspan><tspan x="45" y="42.6">16.7</tspan><tspan x="45" y="50.6">10.0</tspan><tspan x="45" y="58.6">0.0</tspan><tspan x="45" y="68.6">7.0</tspan><tspan x="56" y="26.6">4</tspan><tspan x="56" y="34.6">18</tspan><tspan x="56" y="42.6">5</tspan><tspan x="56" y="50.6">3</tspan><tspan x="56" y="58.6">0</tspan><tspan x="56" y="68.6">30</tspan></text><use href="#ex"/></g>

<g id="n26" transform="translate(1166,637)"><use href="#nf"/><rect class="b" x="18" y="30.3" width="2.8" height="5.4"/><rect class="b" x="18" y="46.3" width="11.2" height="5.4"/><use href="#p4"/><text class="t m" x="29" y="7.5">Node 26</text><text class="t e"><tspan x="45" y="26.6">0.0</tspan><tspan x="45" y="34.6">20.0</tspan><tspan x="45" y="42.6">0.0</tspan><tspan x="45" y="50.6">80.0</tspan><tspan x="45" y="58.6">0.0</tspan><tspan x="45" y="68.6">1.2</tspan><tspan x="56" y="26.6">0</tspan><tspan x="56" y="34.6">1</tspan><tspan x="56" y="42.6">0</tspan><tspan x="56" y="50.6">4</tspan><tspan x="56" y="58.6">0</tspan><tspan x="56" y="68.6">5</tspan></text></g>

<g id="n27" transform="translate(92,797)"><use href="#nf"/><rect class="b" x="18" y="22.3" width="14" height="5.4"/><use href="#p1"/><text class="t m" x="29" y="7.5">Node 27</text><text class="t e"><tspan x="45" y="26.6">100.0</tspan><tspan x="45" y="34.6">0.0</tspan><tspan x="45" y="42.6">0.0</tspan><tspan x="45" y="50.6">0.0</tspan><tspan x="45" y="58.6">0.0</tspan><tspan x="45" y="68.6">1.4</tspan><tspan x="56" y="26.6">6</tspan><tspan x="56" y="34.6">0</tspan><tspan x="56" y="42.6">0</tspan><tspan x="56" y="50.6">0</tspan><tspan x="56" y="58.6">0</tspan><tspan x="56" y="68.6">6</tspan></text></g>

<g id="n28" transform="translate(156,797)"><use href="#nf"/><rect class="b" x="18" y="22.3" width="2.8" height="5.4"/><rect class="b" x="18" y="30.3" width="11.2" height="5.4"/><use href="#p2"/><text class="t m" x="29" y="7.5">Node 28</text><text class="t e"><tspan x="45" y="26.6">20.0</tspan><tspan x="45" y="34.6">80.0</tspan><tspan x="45" y="42.6">0.0</tspan><tspan x="45" y="50.6">0.0</tspan><tspan x="45" y="58.6">0.0</tspan><tspan x="45" y="68.6">1.2</tspan><tspan x="56" y="26.6">1</tspan><tspan x="56" y="34.6">4</tspan><tspan x="56" y="42.6">0</tspan><tspan x="56" y="50.6">0</tspan><tspan x="56" y="58.6">0</tspan><tspan x="56" y="68.6">5</tspan></text></g>

<g id="n29" transform="translate(303,797)"><use href="#nf"/><rect class="b" x="18" y="46.3" width="2.3" height="5.4"/><rect class="b" x="18" y="54.3" width="11.7" height="5.4"/><use href="#p5"/><text class="t m" x="29" y="7.5">Node 29</text><text class="t e"><tspan x="45" y="26.6">0.0</tspan><tspan x="45" y="34.6">0.0</tspan><tspan x="45" y="42.6">0.0</tspan><tspan x="45" y="50.6">16.7</tspan><tspan x="45" y="58.6">83.3</tspan><tspan x="45" y="68.6">1.4</tspan><tspan x="56" y="26.6">0</tspan><tspan x="56" y="34.6">0</tspan><tspan x="56" y="42.6">0</tspan><tspan x="56" y="50.6">1</tspan><tspan x="56" y="58.6">5</tspan><tspan x="56" y="68.6">6</tspan></text></g>

<g id="n30" transform="translate(367,797)"><use href="#nf"/><rect class="b" x="18" y="46.3" width="11.2" height="5.4"/><rect class="b" x="18" y="54.3" width="2.8" height="5.4"/><use href="#p4"/><text class="t m" x="29" y="7.5">Node 30</text><text class="t e"><tspan x="45" y="26.6">0.0</tspan><tspan x="45" y="34.6">0.0</tspan><tspan x="45" y="42.6">0.0</tspan><tspan x="45" y="50.6">80.0</tspan><tspan x="45" y="58.6">20.0</tspan><tspan x="45" y="68.6">2.3</tspan><tspan x="56" y="26.6">0</tspan><tspan x="56" y="34.6">0</tspan><tspan x="56" y="42.6">0</tspan><tspan x="56" y="50.6">8</tspan><tspan x="56" y="58.6">2</tspan><tspan x="56" y="68.6">10</tspan></text><use href="#ex"/></g>

<g id="n31" transform="translate(431,797)"><use href="#nf"/><rect class="b" x="18" y="46.3" width="10.5" height="5.4"/><rect class="b" x="18" y="54.3" width="3.5" height="5.4"/><use href="#p4"/><text class="t m" x="29" y="7.5">Node 31</text><text class="t e"><tspan x="45" y="26.6">0.0</tspan><tspan x="45" y="34.6">0.0</tspan><tspan x="45" y="42.6">0.0</tspan><tspan x="45" y="50.6">75.0</tspan><tspan x="45" y="58.6">25.0</tspan><tspan x="45" y="68.6">0.9</tspan><tspan x="56" y="26.6">0</tspan><tspan x="56" y="34.6">0</tspan><tspan x="56" y="42.6">0</tspan><tspan x="56" y="50.6">3</tspan><tspan x="56" y="58.6">1</tspan><tspan x="56" y="68.6">4</tspan></text></g>

<g id="n32" transform="translate(511,797)"><use href="#nf"/><rect class="b" x="18" y="46.3" width="6" height="5.4"/><rect class="b" x="18" y="54.3" width="8.1" height="5.4"/><use href="#p5"/><text class="t m" x="29" y="7.5">Node 32</text><text class="t e"><tspan x="45" y="26.6">0.0</tspan><tspan x="45" y="34.6">0.0</tspan><tspan x="45" y="42.6">0.0</tspan><tspan x="45" y="50.6">42.5</tspan><tspan x="45" y="58.6">57.5</tspan><tspan x="45" y="68.6">9.3</tspan><tspan x="56" y="26.6">0</tspan><tspan x="56" y="34.6">0</tspan><tspan x="56" y="42.6">0</tspan><tspan x="56" y="50.6">17</tspan><tspan x="56" y="58.6">23</tspan><tspan x="56" y="68.6">40</tspan></text><use href="#ex"/></g>

<g id="n33" transform="translate(582,797)"><use href="#nf"/><rect class="b" x="18" y="46.3" width="11.2" height="5.4"/><rect class="b" x="18" y="54.3" width="2.8" height="5.4"/><use href="#p4"/><text class="t m" x="29" y="7.5">Node 33</text><text class="t e"><tspan x="45" y="26.6">0.0</tspan><tspan x="45" y="34.6">0.0</tspan><tspan x="45" y="42.6">0.0</tspan><tspan x="45" y="50.6">80.0</tspan><tspan x="45" y="58.6">20.0</tspan><tspan x="45" y="68.6">1.2</tspan><tspan x="56" y="26.6">0</tspan><tspan x="56" y="34.6">0</tspan><tspan x="56" y="42.6">0</tspan><tspan x="56" y="50.6">4</tspan><tspan x="56" y="58.6">1</tspan><tspan x="56" y="68.6">5</tspan></text></g>

<g id="n34" transform="translate(661,797)"><use href="#nf"/><rect class="b" x="18" y="46.3" width="1.2" height="5.4"/><rect class="b" x="18" y="54.3" width="12.8" height="5.4"/><use href="#p5"/><text class="t m" x="29" y="7.5">Node 34</text><text class="t e"><tspan x="45" y="26.6">0.0</tspan><tspan x="45" y="34.6">0.0</tspan><tspan x="45" y="42.6">0.0</tspan><tspan x="45" y="50.6">8.3</tspan><tspan x="45" y="58.6">91.7</tspan><tspan x="45" y="68.6">19.5</tspan><tspan x="56" y="26.6">0</tspan><tspan x="56" y="34.6">0</tspan><tspan x="56" y="42.6">0</tspan><tspan x="56" y="50.6">7</tspan><tspan x="56" y="58.6">77</tspan><tspan x="56" y="68.6">84</tspan></text><use href="#ex"/></g>

<g id="n35" transform="translate(730,797)"><use href="#nf"/><rect class="b" x="18" y="46.3" width="2.8" height="5.4"/><rect class="b" x="18" y="54.3" width="11.2" height="5.4"/><use href="#p5"/><text class="t m" x="29" y="7.5">Node 35</text><text class="t e"><tspan x="45" y="26.6">0.0</tspan><tspan x="45" y="34.6">0.0</tspan><tspan x="45" y="42.6">0.0</tspan><tspan x="45" y="50.6">20.0</tspan><tspan x="45" y="58.6">80.0</tspan><tspan x="45" y="68.6">1.2</tspan><tspan x="56" y="26.6">0</tspan><tspan x="56" y="34.6">0</tspan><tspan x="56" y="42.6">0</tspan><tspan x="56" y="50.6">1</tspan><tspan x="56" y="58.6">4</tspan><tspan x="56" y="68.6">5</tspan></text></g>

<g id="n36" transform="translate(872,797)"><use href="#nf"/><rect class="b" x="18" y="30.3" width="8.7" height="5.4"/><rect class="b" x="18" y="46.3" width="4.7" height="5.4"/><rect class="b" x="18" y="54.3" width="0.7" height="5.4"/><use href="#p2"/><text class="t m" x="29" y="7.5">Node 36</text><text class="t e"><tspan x="45" y="26.6">0.0</tspan><tspan x="45" y="34.6">61.9</tspan><tspan x="45" y="42.6">0.0</tspan><tspan x="45" y="50.6">33.3</tspan><tspan x="45" y="58.6">4.8</tspan><tspan x="45" y="68.6">4.9</tspan><tspan x="56" y="26.6">0</tspan><tspan x="56" y="34.6">13</tspan><tspan x="56" y="42.6">0</tspan><tspan x="56" y="50.6">7</tspan><tspan x="56" y="58.6">1</tspan><tspan x="56" y="68.6">21</tspan></text><use href="#ex"/></g>

<g id="n37" transform="translate(936,797)"><use href="#nf"/><rect class="b" x="18" y="46.3" width="14" height="5.4"/><use href="#p4"/><text class="t m" x="29" y="7.5">Node 37</text><text class="t e"><tspan x="45" y="26.6">0.0</tspan><tspan x="45" y="34.6">0.0</tspan><tspan x="45" y="42.6">0.0</tspan><tspan x="45" y="50.6">100.0</tspan><tspan x="45" y="58.6">0.0</tspan><tspan x="45" y="68.6">2.3</tspan><tspan x="56" y="26.6">0</tspan><tspan x="56" y="34.6">0</tspan><tspan x="56" y="42.6">0</tspan><tspan x="56" y="50.6">10</tspan><tspan x="56" y="58.6">0</tspan><tspan x="56" y="68.6">10</tspan></text></g>

<g id="n38" transform="translate(1001,797)"><use href="#nf"/><rect class="b" x="18" y="22.3" width="2.8" height="5.4"/><rect class="b" x="18" y="30.3" width="8.4" height="5.4"/><rect class="b" x="18" y="46.3" width="2.8" height="5.4"/><use href="#p2"/><text class="t m" x="29" y="7.5">Node 38</text><text class="t e"><tspan x="45" y="26.6">20.0</tspan><tspan x="45" y="34.6">60.0</tspan><tspan x="45" y="42.6">0.0</tspan><tspan x="45" y="50.6">20.0</tspan><tspan x="45" y="58.6">0.0</tspan><tspan x="45" y="68.6">1.2</tspan><tspan x="56" y="26.6">1</tspan><tspan x="56" y="34.6">3</tspan><tspan x="56" y="42.6">0</tspan><tspan x="56" y="50.6">1</tspan><tspan x="56" y="58.6">0</tspan><tspan x="56" y="68.6">5</tspan></text></g>

<g id="n39" transform="translate(1069,797)"><use href="#nf"/><rect class="b" x="18" y="22.3" width="2.7" height="5.4"/><rect class="b" x="18" y="30.3" width="9.3" height="5.4"/><rect class="b" x="18" y="46.3" width="2" height="5.4"/><use href="#p2"/><text class="t m" x="29" y="7.5">Node 39</text><text class="t e"><tspan x="45" y="26.6">19.0</tspan><tspan x="45" y="34.6">66.7</tspan><tspan x="45" y="42.6">0.0</tspan><tspan x="45" y="50.6">14.3</tspan><tspan x="45" y="58.6">0.0</tspan><tspan x="45" y="68.6">4.9</tspan><tspan x="56" y="26.6">4</tspan><tspan x="56" y="34.6">14</tspan><tspan x="56" y="42.6">0</tspan><tspan x="56" y="50.6">3</tspan><tspan x="56" y="58.6">0</tspan><tspan x="56" y="68.6">21</tspan></text><use href="#ex"/></g>

<g id="n40" transform="translate(1137,797)"><use href="#nf"/><rect class="b" x="18" y="30.3" width="6.2" height="5.4"/><rect class="b" x="18" y="38.3" width="7.8" height="5.4"/><use href="#p3"/><text class="t m" x="29" y="7.5">Node 40</text><text class="t e"><tspan x="45" y="26.6">0.0</tspan><tspan x="45" y="34.6">44.4</tspan><tspan x="45" y="42.6">55.6</tspan><tspan x="45" y="50.6">0.0</tspan><tspan x="45" y="58.6">0.0</tspan><tspan x="45" y="68.6">2.1</tspan><tspan x="56" y="26.6">0</tspan><tspan x="56" y="34.6">4</tspan><tspan x="56" y="42.6">5</tspan><tspan x="56" y="50.6">0</tspan><tspan x="56" y="58.6">0</tspan><tspan x="56" y="68.6">9</tspan></text></g>

<g id="n41" transform="translate(335,945)"><use href="#nf"/><rect class="b" x="18" y="46.3" width="10" height="5.4"/><rect class="b" x="18" y="54.3" width="4" height="5.4"/><use href="#p4"/><text class="t m" x="29" y="7.5">Node 41</text><text class="t e"><tspan x="45" y="26.6">0.0</tspan><tspan x="45" y="34.6">0.0</tspan><tspan x="45" y="42.6">0.0</tspan><tspan x="45" y="50.6">71.4</tspan><tspan x="45" y="58.6">28.6</tspan><tspan x="45" y="68.6">1.6</tspan><tspan x="56" y="26.6">0</tspan><tspan x="56" y="34.6">0</tspan><tspan x="56" y="42.6">0</tspan><tspan x="56" y="50.6">5</tspan><tspan x="56" y="58.6">2</tspan><tspan x="56" y="68.6">7</tspan></text></g>

<g id="n42" transform="translate(399,945)"><use href="#nf"/><rect class="b" x="18" y="46.3" width="14" height="5.4"/><use href="#p4"/><text class="t m" x="29" y="7.5">Node 42</text><text class="t e"><tspan x="45" y="26.6">0.0</tspan><tspan x="45" y="34.6">0.0</tspan><tspan x="45" y="42.6">0.0</tspan><tspan x="45" y="50.6">100.0</tspan><tspan x="45" y="58.6">0.0</tspan><tspan x="45" y="68.6">0.7</tspan><tspan x="56" y="26.6">0</tspan><tspan x="56" y="34.6">0</tspan><tspan x="56" y="42.6">0</tspan><tspan x="56" y="50.6">3</tspan><tspan x="56" y="58.6">0</tspan><tspan x="56" y="68.6">3</tspan></text></g>

<g id="n43" transform="translate(471,945)"><use href="#nf"/><rect class="b" x="18" y="46.3" width="4.2" height="5.4"/><rect class="b" x="18" y="54.3" width="9.8" height="5.4"/><use href="#p5"/><text class="t m" x="29" y="7.5">Node 43</text><text class="t e"><tspan x="45" y="26.6">0.0</tspan><tspan x="45" y="34.6">0.0</tspan><tspan x="45" y="42.6">0.0</tspan><tspan x="45" y="50.6">30.0</tspan><tspan x="45" y="58.6">70.0</tspan><tspan x="45" y="68.6">7.0</tspan><tspan x="56" y="26.6">0</tspan><tspan x="56" y="34.6">0</tspan><tspan x="56" y="42.6">0</tspan><tspan x="56" y="50.6">9</tspan><tspan x="56" y="58.6">21</tspan><tspan x="56" y="68.6">30</tspan></text><use href="#ex"/></g>

<g id="n44" transform="translate(551,945)"><use href="#nf"/><rect class="b" x="18" y="46.3" width="11.2" height="5.4"/><rect class="b" x="18" y="54.3" width="2.8" height="5.4"/><use href="#p4"/><text class="t m" x="29" y="7.5">Node 44</text><text class="t e"><tspan x="45" y="26.6">0.0</tspan><tspan x="45" y="34.6">0.0</tspan><tspan x="45" y="42.6">0.0</tspan><tspan x="45" y="50.6">80.0</tspan><tspan x="45" y="58.6">20.0</tspan><tspan x="45" y="68.6">2.3</tspan><tspan x="56" y="26.6">0</tspan><tspan x="56" y="34.6">0</tspan><tspan x="56" y="42.6">0</tspan><tspan x="56" y="50.6">8</tspan><tspan x="56" y="58.6">2</tspan><tspan x="56" y="68.6">10</tspan></text></g>

<g id="n45" transform="translate(624,945)"><use href="#nf"/><rect class="b" x="18" y="46.3" width="10.5" height="5.4"/><rect class="b" x="18" y="54.3" width="3.5" height="5.4"/><use href="#p4"/><text class="t m" x="29" y="7.5">Node 45</text><text class="t e"><tspan x="45" y="26.6">0.0</tspan><tspan x="45" y="34.6">0.0</tspan><tspan x="45" y="42.6">0.0</tspan><tspan x="45" y="50.6">75.0</tspan><tspan x="45" y="58.6">25.0</tspan><tspan x="45" y="68.6">0.9</tspan><tspan x="56" y="26.6">0</tspan><tspan x="56" y="34.6">0</tspan><tspan x="56" y="42.6">0</tspan><tspan x="56" y="50.6">3</tspan><tspan x="56" y="58.6">1</tspan><tspan x="56" y="68.6">4</tspan></text></g>

<g id="n46" transform="translate(698,945)"><use href="#nf"/><rect class="b" x="18" y="46.3" width="0.7" height="5.4"/><rect class="b" x="18" y="54.3" width="13.3" height="5.4"/><use href="#p5"/><text class="t m" x="29" y="7.5">Node 46</text><text class="t e"><tspan x="45" y="26.6">0.0</tspan><tspan x="45" y="34.6">0.0</tspan><tspan x="45" y="42.6">0.0</tspan><tspan x="45" y="50.6">5.0</tspan><tspan x="45" y="58.6">95.0</tspan><tspan x="45" y="68.6">18.6</tspan><tspan x="56" y="26.6">0</tspan><tspan x="56" y="34.6">0</tspan><tspan x="56" y="42.6">0</tspan><tspan x="56" y="50.6">4</tspan><tspan x="56" y="58.6">76</tspan><tspan x="56" y="68.6">80</tspan></text><use href="#ex"/></g>

<g id="n47" transform="translate(837,945)"><use href="#nf"/><rect class="b" x="18" y="30.3" width="10.1" height="5.4"/><rect class="b" x="18" y="46.3" width="3.1" height="5.4"/><rect class="b" x="18" y="54.3" width="0.8" height="5.4"/><use href="#p2"/><text class="t m" x="29" y="7.5">Node 47</text><text class="t e"><tspan x="45" y="26.6">0.0</tspan><tspan x="45" y="34.6">72.2</tspan><tspan x="45" y="42.6">0.0</tspan><tspan x="45" y="50.6">22.2</tspan><tspan x="45" y="58.6">5.6</tspan><tspan x="45" y="68.6">4.2</tspan><tspan x="56" y="26.6">0</tspan><tspan x="56" y="34.6">13</tspan><tspan x="56" y="42.6">0</tspan><tspan x="56" y="50.6">4</tspan><tspan x="56" y="58.6">1</tspan><tspan x="56" y="68.6">18</tspan></text><use href="#ex"/></g>

<g id="n48" transform="translate(902,945)"><use href="#nf"/><rect class="b" x="18" y="46.3" width="14" height="5.4"/><use href="#p4"/><text class="t m" x="29" y="7.5">Node 48</text><text class="t e"><tspan x="45" y="26.6">0.0</tspan><tspan x="45" y="34.6">0.0</tspan><tspan x="45" y="42.6">0.0</tspan><tspan x="45" y="50.6">100.0</tspan><tspan x="45" y="58.6">0.0</tspan><tspan x="45" y="68.6">0.7</tspan><tspan x="56" y="26.6">0</tspan><tspan x="56" y="34.6">0</tspan><tspan x="56" y="42.6">0</tspan><tspan x="56" y="50.6">3</tspan><tspan x="56" y="58.6">0</tspan><tspan x="56" y="68.6">3</tspan></text></g>

<g id="n49" transform="translate(1027,945)"><use href="#nf"/><rect class="b" x="18" y="22.3" width="5.6" height="5.4"/><rect class="b" x="18" y="30.3" width="7" height="5.4"/><rect class="b" x="18" y="46.3" width="1.4" height="5.4"/><use href="#p2"/><text class="t m" x="29" y="7.5">Node 49</text><text class="t e"><tspan x="45" y="26.6">40.0</tspan><tspan x="45" y="34.6">50.0</tspan><tspan x="45" y="42.6">0.0</tspan><tspan x="45" y="50.6">10.0</tspan><tspan x="45" y="58.6">0.0</tspan><tspan x="45" y="68.6">2.3</tspan><tspan x="56" y="26.6">4</tspan><tspan x="56" y="34.6">5</tspan><tspan x="56" y="42.6">0</tspan><tspan x="56" y="50.6">1</tspan><tspan x="56" y="58.6">0</tspan><tspan x="56" y="68.6">10</tspan></text><use href="#ex"/></g>

<g id="n50" transform="translate(1097,945)"><use href="#nf"/><rect class="b" x="18" y="30.3" width="11.5" height="5.4"/><rect class="b" x="18" y="46.3" width="2.5" height="5.4"/><use href="#p2"/><text class="t m" x="29" y="7.5">Node 50</text><text class="t e"><tspan x="45" y="26.6">0.0</tspan><tspan x="45" y="34.6">81.8</tspan><tspan x="45" y="42.6">0.0</tspan><tspan x="45" y="50.6">18.2</tspan><tspan x="45" y="58.6">0.0</tspan><tspan x="45" y="68.6">2.6</tspan><tspan x="56" y="26.6">0</tspan><tspan x="56" y="34.6">9</tspan><tspan x="56" y="42.6">0</tspan><tspan x="56" y="50.6">2</tspan><tspan x="56" y="58.6">0</tspan><tspan x="56" y="68.6">11</tspan></text></g>

<g id="n51" transform="translate(442,1083)"><use href="#nf"/><rect class="b" x="18" y="54.3" width="14" height="5.4"/><use href="#p5"/><text class="t m" x="29" y="7.5">Node 51</text><text class="t e"><tspan x="45" y="26.6">0.0</tspan><tspan x="45" y="34.6">0.0</tspan><tspan x="45" y="42.6">0.0</tspan><tspan x="45" y="50.6">0.0</tspan><tspan x="45" y="58.6">100.0</tspan><tspan x="45" y="68.6">4.6</tspan><tspan x="56" y="26.6">0</tspan><tspan x="56" y="34.6">0</tspan><tspan x="56" y="42.6">0</tspan><tspan x="56" y="50.6">0</tspan><tspan x="56" y="58.6">20</tspan><tspan x="56" y="68.6">20</tspan></text></g>

<g id="n52" transform="translate(504,1083)"><use href="#nf"/><rect class="b" x="18" y="46.3" width="12.6" height="5.4"/><rect class="b" x="18" y="54.3" width="1.4" height="5.4"/><use href="#p4"/><text class="t m" x="29" y="7.5">Node 52</text><text class="t e"><tspan x="45" y="26.6">0.0</tspan><tspan x="45" y="34.6">0.0</tspan><tspan x="45" y="42.6">0.0</tspan><tspan x="45" y="50.6">90.0</tspan><tspan x="45" y="58.6">10.0</tspan><tspan x="45" y="68.6">2.3</tspan><tspan x="56" y="26.6">0</tspan><tspan x="56" y="34.6">0</tspan><tspan x="56" y="42.6">0</tspan><tspan x="56" y="50.6">9</tspan><tspan x="56" y="58.6">1</tspan><tspan x="56" y="68.6">10</tspan></text></g>

<g id="n53" transform="translate(663,1083)"><use href="#nf"/><rect class="b" x="18" y="46.3" width="2.3" height="5.4"/><rect class="b" x="18" y="54.3" width="11.7" height="5.4"/><use href="#p5"/><text class="t m" x="29" y="7.5">Node 53</text><text class="t e"><tspan x="45" y="26.6">0.0</tspan><tspan x="45" y="34.6">0.0</tspan><tspan x="45" y="42.6">0.0</tspan><tspan x="45" y="50.6">16.7</tspan><tspan x="45" y="58.6">83.3</tspan><tspan x="45" y="68.6">1.4</tspan><tspan x="56" y="26.6">0</tspan><tspan x="56" y="34.6">0</tspan><tspan x="56" y="42.6">0</tspan><tspan x="56" y="50.6">1</tspan><tspan x="56" y="58.6">5</tspan><tspan x="56" y="68.6">6</tspan></text></g>

<g id="n54" transform="translate(736,1083)"><use href="#nf"/><rect class="b" x="18" y="46.3" width="0.6" height="5.4"/><rect class="b" x="18" y="54.3" width="13.4" height="5.4"/><use href="#p5"/><text class="t m" x="29" y="7.5">Node 54</text><text class="t e"><tspan x="45" y="26.6">0.0</tspan><tspan x="45" y="34.6">0.0</tspan><tspan x="45" y="42.6">0.0</tspan><tspan x="45" y="50.6">4.1</tspan><tspan x="45" y="58.6">95.9</tspan><tspan x="45" y="68.6">17.2</tspan><tspan x="56" y="26.6">0</tspan><tspan x="56" y="34.6">0</tspan><tspan x="56" y="42.6">0</tspan><tspan x="56" y="50.6">3</tspan><tspan x="56" y="58.6">71</tspan><tspan x="56" y="68.6">74</tspan></text><use href="#ex"/></g>

<g id="n55" transform="translate(806,1083)"><use href="#nf"/><rect class="b" x="18" y="30.3" width="3.5" height="5.4"/><rect class="b" x="18" y="46.3" width="7" height="5.4"/><rect class="b" x="18" y="54.3" width="3.5" height="5.4"/><use href="#p4"/><text class="t m" x="29" y="7.5">Node 55</text><text class="t e"><tspan x="45" y="26.6">0.0</tspan><tspan x="45" y="34.6">25.0</tspan><tspan x="45" y="42.6">0.0</tspan><tspan x="45" y="50.6">50.0</tspan><tspan x="45" y="58.6">25.0</tspan><tspan x="45" y="68.6">0.9</tspan><tspan x="56" y="26.6">0</tspan><tspan x="56" y="34.6">1</tspan><tspan x="56" y="42.6">0</tspan><tspan x="56" y="50.6">2</tspan><tspan x="56" y="58.6">1</tspan><tspan x="56" y="68.6">4</tspan></text></g>

<g id="n56" transform="translate(871,1083)"><use href="#nf"/><rect class="b" x="18" y="30.3" width="12" height="5.4"/><rect class="b" x="18" y="46.3" width="2" height="5.4"/><use href="#p2"/><text class="t m" x="29" y="7.5">Node 56</text><text class="t e"><tspan x="45" y="26.6">0.0</tspan><tspan x="45" y="34.6">85.7</tspan><tspan x="45" y="42.6">0.0</tspan><tspan x="45" y="50.6">14.3</tspan><tspan x="45" y="58.6">0.0</tspan><tspan x="45" y="68.6">3.2</tspan><tspan x="56" y="26.6">0</tspan><tspan x="56" y="34.6">12</tspan><tspan x="56" y="42.6">0</tspan><tspan x="56" y="50.6">2</tspan><tspan x="56" y="58.6">0</tspan><tspan x="56" y="68.6">14</tspan></text></g>

<g id="n57" transform="translate(1000,1083)"><use href="#nf"/><rect class="b" x="18" y="22.3" width="2" height="5.4"/><rect class="b" x="18" y="30.3" width="10" height="5.4"/><rect class="b" x="18" y="46.3" width="2" height="5.4"/><use href="#p2"/><text class="t m" x="29" y="7.5">Node 57</text><text class="t e"><tspan x="45" y="26.6">14.3</tspan><tspan x="45" y="34.6">71.4</tspan><tspan x="45" y="42.6">0.0</tspan><tspan x="45" y="50.6">14.3</tspan><tspan x="45" y="58.6">0.0</tspan><tspan x="45" y="68.6">1.6</tspan><tspan x="56" y="26.6">1</tspan><tspan x="56" y="34.6">5</tspan><tspan x="56" y="42.6">0</tspan><tspan x="56" y="50.6">1</tspan><tspan x="56" y="58.6">0</tspan><tspan x="56" y="68.6">7</tspan></text></g>

<g id="n58" transform="translate(1064,1083)"><use href="#nf"/><rect class="b" x="18" y="22.3" width="14" height="5.4"/><use href="#p1"/><text class="t m" x="29" y="7.5">Node 58</text><text class="t e"><tspan x="45" y="26.6">100.0</tspan><tspan x="45" y="34.6">0.0</tspan><tspan x="45" y="42.6">0.0</tspan><tspan x="45" y="50.6">0.0</tspan><tspan x="45" y="58.6">0.0</tspan><tspan x="45" y="68.6">0.7</tspan><tspan x="56" y="26.6">3</tspan><tspan x="56" y="34.6">0</tspan><tspan x="56" y="42.6">0</tspan><tspan x="56" y="50.6">0</tspan><tspan x="56" y="58.6">0</tspan><tspan x="56" y="68.6">3</tspan></text></g>

<g id="n59" transform="translate(703,1223)"><use href="#nf"/><rect class="b" x="18" y="46.3" width="0.5" height="5.4"/><rect class="b" x="18" y="54.3" width="13.5" height="5.4"/><use href="#p5"/><text class="t m" x="29" y="7.5">Node 59</text><text class="t e"><tspan x="45" y="26.6">0.0</tspan><tspan x="45" y="34.6">0.0</tspan><tspan x="45" y="42.6">0.0</tspan><tspan x="45" y="50.6">3.7</tspan><tspan x="45" y="58.6">96.3</tspan><tspan x="45" y="68.6">6.3</tspan><tspan x="56" y="26.6">0</tspan><tspan x="56" y="34.6">0</tspan><tspan x="56" y="42.6">0</tspan><tspan x="56" y="50.6">1</tspan><tspan x="56" y="58.6">26</tspan><tspan x="56" y="68.6">27</tspan></text></g>

<g id="n60" transform="translate(772,1223)"><use href="#nf"/><rect class="b" x="18" y="46.3" width="0.6" height="5.4"/><rect class="b" x="18" y="54.3" width="13.4" height="5.4"/><use href="#p5"/><text class="t m" x="29" y="7.5">Node 60</text><text class="t e"><tspan x="45" y="26.6">0.0</tspan><tspan x="45" y="34.6">0.0</tspan><tspan x="45" y="42.6">0.0</tspan><tspan x="45" y="50.6">4.3</tspan><tspan x="45" y="58.6">95.7</tspan><tspan x="45" y="68.6">10.9</tspan><tspan x="56" y="26.6">0</tspan><tspan x="56" y="34.6">0</tspan><tspan x="56" y="42.6">0</tspan><tspan x="56" y="50.6">2</tspan><tspan x="56" y="58.6">45</tspan><tspan x="56" y="68.6">47</tspan></text></g>
</svg>
